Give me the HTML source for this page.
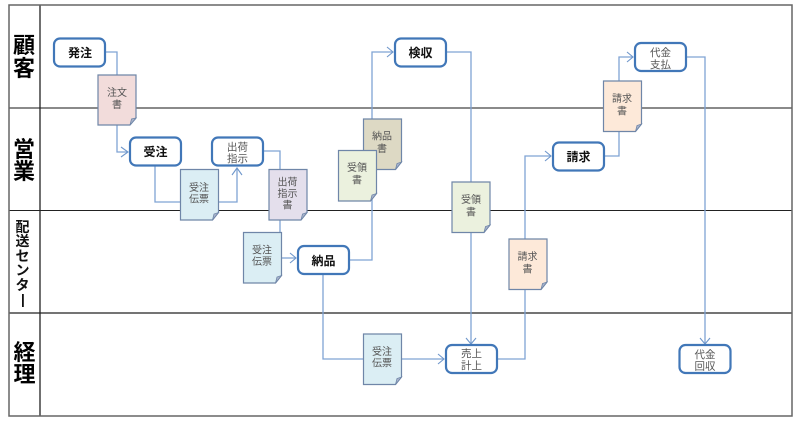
<!DOCTYPE html>
<html lang="ja"><head><meta charset="utf-8"><style>
html,body{margin:0;padding:0;background:#fff}
svg{display:block;filter:blur(.3px)}
text{font-family:"Liberation Sans","Noto Sans CJK JP",sans-serif;text-anchor:middle}
.b{font-size:12px;font-weight:700;fill:#111}
.t{font-size:10.5px;fill:#555}
.d{font-size:10px;fill:#555}
.h{font-size:22px;font-weight:700;fill:#000}
.s{font-size:14px;font-weight:700;fill:#111}
.box{fill:#fff;stroke:#4177b8;stroke-width:2.2}
.c{fill:none;stroke:#7fa3d4;stroke-width:1.3}
.a{fill:none;stroke:#6f97cb;stroke-width:1.1}
.doc{stroke:#6f86a8;stroke-width:1.2}
.f{fill:#aab4cc;stroke:#6f86a8;stroke-width:.8}
</style></head><body>
<svg width="800" height="423" viewBox="0 0 800 423" xmlns="http://www.w3.org/2000/svg">
<rect width="800" height="423" fill="#fff"/>
<!-- frame -->
<g fill="none">
<line x1="9" y1="108" x2="792" y2="108" stroke="#444" stroke-width="1.2"/>
<line x1="9" y1="210.5" x2="792" y2="210.5" stroke="#222" stroke-width="1.1"/>
<line x1="9" y1="313" x2="792" y2="313" stroke="#222" stroke-width="1.2"/>
<line x1="40" y1="5" x2="40" y2="416" stroke="#222" stroke-width="1.3"/>
<rect x="9" y="5" width="783" height="411" stroke="#666" stroke-width="1.5"/>
</g>
<!-- connectors -->
<g class="c">
<path class="c" d="M105 52H117V152H127"/>
<path class="c" d="M155 166V202H237V169"/>
<path class="c" d="M263 151H280V232"/>
<path class="c" d="M281 258H296"/>
<path class="c" d="M349 260H372V52H393"/>
<path class="c" d="M446 52H471V344"/>
<path class="c" d="M323 274V359H444"/>
<path class="c" d="M497 359H525V156H551"/>
<path class="c" d="M604 156H619V57H633"/>
<path class="c" d="M686 57H705V344"/>
</g>
<!-- arrowheads -->
<g class="a">
<path class="a" d="M121 147L128 152L121 157"/>
<path class="a" d="M232 175L237 168L242 175"/>
<path class="a" d="M290 253L296 258L290 263"/>
<path class="a" d="M387 47L393 52L387 57"/>
<path class="a" d="M438 354L444 359L438 364"/>
<path class="a" d="M466 338L471 344L476 338"/>
<path class="a" d="M545 151L551 156L545 161"/>
<path class="a" d="M627 52L633 57L627 62"/>
<path class="a" d="M700 338L705 344L710 338"/>
</g>
<!-- process boxes -->
<rect class="box" x="54" y="38.500" width="51" height="28" rx="6"/>
<rect class="box" x="130" y="137.500" width="51" height="28" rx="6"/>
<rect class="box" x="212" y="137.500" width="51" height="28" rx="6"/>
<rect class="box" x="298" y="246" width="51" height="28" rx="6"/>
<rect class="box" x="395" y="38.500" width="51" height="28" rx="6"/>
<rect class="box" x="446" y="345" width="51" height="28" rx="6"/>
<rect class="box" x="553" y="142.500" width="51" height="28" rx="6"/>
<rect class="box" x="635" y="43" width="51" height="28" rx="6"/>
<rect class="box" x="679.500" y="345" width="51" height="28" rx="6"/>
<!-- documents -->
<path class="doc" fill="#f2dcdb" d="M98 75H136V118L130 125H98Z"/><path class="f" d="M130 125L131.500 119L136 118Z"/>
<path class="doc" fill="#dbeef4" d="M180.500 169.500H218.500V212.500L212.500 220H180.500Z"/><path class="f" d="M212.500 220L214 214L218.500 212.500Z"/>
<path class="doc" fill="#e4dfec" d="M269 169.500H307V212.500L301 220H269Z"/><path class="f" d="M301 220L302.500 214L307 212.500Z"/>
<path class="doc" fill="#dbeef4" d="M243.500 232.500H281.500V275.500L275.500 283H243.500Z"/><path class="f" d="M275.500 283L277 277L281.500 275.500Z"/>
<path class="doc" fill="#ddd9c4" d="M363.500 119H401.500V162L395.500 169.500H363.500Z"/><path class="f" d="M395.500 169.500L397 163.500L401.500 162Z"/>
<path class="doc" fill="#ebf1de" d="M338.500 150.500H376.500V193.500L370.500 201H338.500Z"/><path class="f" d="M370.500 201L372 195L376.500 193.500Z"/>
<path class="doc" fill="#ebf1de" d="M452 182H490V225L484 232.500H452Z"/><path class="f" d="M484 232.500L485.500 226.500L490 225Z"/>
<path class="doc" fill="#fde9d9" d="M509 239H547V282L541 289.500H509Z"/><path class="f" d="M541 289.500L542.500 283.500L547 282Z"/>
<path class="doc" fill="#dbeef4" d="M363.500 334H401.500V377L395.500 384.500H363.500Z"/><path class="f" d="M395.500 384.500L397 378.500L401.500 377Z"/>
<path class="doc" fill="#fde9d9" d="M603.500 81H641.500V124L635.500 131.500H603.500Z"/><path class="f" d="M635.500 131.500L637 125.500L641.500 124Z"/>
<!-- lane headings -->
<text class="h" x="24" y="53">顧</text>
<text class="h" x="24" y="76">客</text>
<text class="h" x="24" y="157">営</text>
<text class="h" x="24" y="179">業</text>
<text class="s" x="22.500" y="232">配</text>
<text class="s" x="22.500" y="246">送</text>
<text class="s" x="22.500" y="261">セ</text>
<text class="s" x="22.500" y="275">ン</text>
<text class="s" x="22.500" y="290">タ</text>
<rect x="22" y="294" width="1.800" height="13" fill="#111"/>
<text class="h" x="24.500" y="360">経</text>
<text class="h" x="24.500" y="382">理</text>
<!-- box labels -->
<text class="b" x="80" y="57">発注</text>
<text class="b" x="155.500" y="156">受注</text>
<text class="t" x="237.500" y="150.500">出荷</text>
<text class="t" x="237.500" y="162">指示</text>
<text class="b" x="323.500" y="265">納品</text>
<text class="b" x="420.500" y="57">検収</text>
<text class="t" x="471.500" y="357">売上</text>
<text class="t" x="471.500" y="369">計上</text>
<text class="b" x="578.500" y="161">請求</text>
<text class="t" x="660.500" y="56">代金</text>
<text class="t" x="660.500" y="68">支払</text>
<text class="t" x="705" y="358">代金</text>
<text class="t" x="705" y="369.500">回収</text>
<!-- document labels -->
<text class="d" x="117" y="96">注文</text>
<text class="d" x="117" y="108">書</text>
<text class="d" x="199" y="191">受注</text>
<text class="d" x="199" y="202.500">伝票</text>
<text class="d" x="287.500" y="185.500">出荷</text>
<text class="d" x="287.500" y="197">指示</text>
<text class="d" x="287.500" y="208.500">書</text>
<text class="d" x="262" y="253.500">受注</text>
<text class="d" x="262" y="265">伝票</text>
<text class="d" x="382" y="139.500">納品</text>
<text class="d" x="382" y="152">書</text>
<text class="d" x="357" y="171">受領</text>
<text class="d" x="357" y="183.500">書</text>
<text class="d" x="471" y="203">受領</text>
<text class="d" x="471" y="215.500">書</text>
<text class="d" x="527.500" y="260">請求</text>
<text class="d" x="527.500" y="272.500">書</text>
<text class="d" x="382" y="355">受注</text>
<text class="d" x="382" y="366.500">伝票</text>
<text class="d" x="622" y="102">請求</text>
<text class="d" x="622" y="114.500">書</text>
</svg>
</body></html>
